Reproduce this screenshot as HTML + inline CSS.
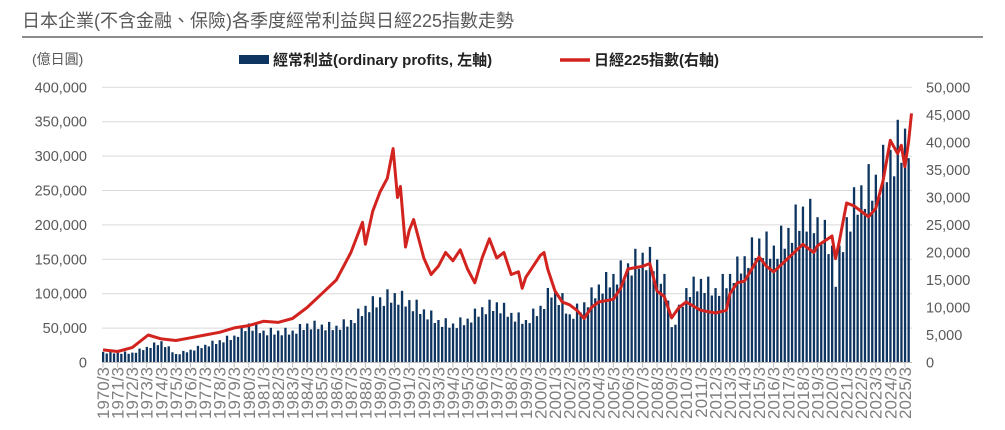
<!DOCTYPE html>
<html><head><meta charset="utf-8"><style>
body{margin:0;background:#fff;width:1005px;height:425px;overflow:hidden}
svg text{font-family:"Liberation Sans","Noto Sans CJK TC",sans-serif}
</style></head><body>
<svg id="c" width="1005" height="425" xmlns="http://www.w3.org/2000/svg">
<text x="22" y="27" font-size="18" fill="#595959">日本企業(不含金融、保險)各季度經常利益與日經225指數走勢</text>
<line x1="22" y1="37" x2="983" y2="37" stroke="#8c8c8c" stroke-width="2"/>
<text x="32" y="64" font-size="14" fill="#595959">(億日圓)</text>
<rect x="239" y="55" width="30" height="9" fill="#0e3460"/>
<text x="273" y="65" font-size="15" font-weight="bold" fill="#222">經常利益(ordinary profits, 左軸)</text>
<line x1="560" y1="60" x2="590" y2="60" stroke="#d2231f" stroke-width="3.5"/>
<text x="594" y="65" font-size="15" font-weight="bold" fill="#222">日經225指數(右軸)</text>
<g id="g"></g>
</svg>
<script>
var g=document.getElementById('g'),s='';
var y0=362.5,pk=34.4/50000,pn=275/50000;
function X(y){return 103+(y-1970)*14.58}
for(var i=0;i<=8;i++){var y=y0-i*34.4;
s+='<line x1="102" x2="912" y1="'+y+'" y2="'+y+'" stroke="#d9d9d9"/>';
s+='<text x="87" y="'+(y+5)+'" font-size="14.5" fill="#595959" text-anchor="end">'+(i*50000).toLocaleString('en-US')+'</text>';}
for(var i=0;i<=10;i++){var y=y0-i*27.5;
s+='<text x="926" y="'+(y+5)+'" font-size="14.5" fill="#595959">'+(i*5000).toLocaleString('en-US')+'</text>';}
function interp(k,t){for(var j=0;j<k.length-1;j++){if(t<=k[j+1][0]){var a=k[j],b=k[j+1];return a[1]+(b[1]-a[1])*(t-a[0])/(b[0]-a[0]);}}return k[k.length-1][1];}
var P=[[1970,15e3],[1972,14e3],[1973,22e3],[1974,30e3],[1975,12e3],[1976,18e3],[1977,25e3],[1979,38e3],[1980,55e3],[1981,45e3],[1983,45e3],[1984,55e3],[1986,52e3],[1987,60e3],[1988,80e3],[1989,92e3],[1990,98e3],[1991,88e3],[1992,75e3],[1993,60e3],[1994,55e3],[1995,62e3],[1996,78e3],[1997,85e3],[1998,70e3],[1999,60e3],[2000,80e3],[2000.75,105e3],[2001.5,90e3],[2002,68e3],[2003,85e3],[2004,110e3],[2005,125e3],[2006,140e3],[2007,155e3],[2008,145e3],[2008.75,100e3],[2009,50e3],[2009.5,75e3],[2010,105e3],[2011,118e3],[2012,105e3],[2013,125e3],[2014,150e3],[2015,175e3],[2016,165e3],[2017,190e3],[2018,220e3],[2019,205e3],[2020,165e3],[2020.25,125e3],[2021,205e3],[2022,250e3],[2023,265e3],[2024,300e3],[2025,330e3],[2025.5,345e3]];
var sea=[1.03,0.88,1.12,0.9];
for(var q=0;q<222;q++){var t=1970+q/4,v=interp(P,t)*sea[q%4];var h=v*pk,x=X(t)-1;
s+='<rect x="'+x.toFixed(1)+'" y="'+(y0-h).toFixed(1)+'" width="2.3" height="'+h.toFixed(1)+'" fill="#0e3460"/>';}
var N=[[1970,2300],[1971,2000],[1972,2700],[1973.1,5000],[1974,4300],[1975,4000],[1976,4500],[1977,5000],[1978,5500],[1979,6300],[1980,6700],[1981,7500],[1982,7300],[1983,8000],[1984,10000],[1985,12500],[1986,15000],[1987,20000],[1987.8,25500],[1988,21500],[1988.5,27500],[1989,31000],[1989.5,33500],[1989.9,38900],[1990.2,30000],[1990.4,32000],[1990.75,21000],[1991,24000],[1991.3,26000],[1992,19000],[1992.5,16000],[1993,17500],[1993.5,20000],[1994,18500],[1994.5,20500],[1995,17000],[1995.5,14500],[1996,19000],[1996.5,22500],[1997,19000],[1997.5,20000],[1998,16000],[1998.5,16500],[1998.75,13500],[1999,15500],[1999.5,17500],[2000,19500],[2000.25,20000],[2000.5,17000],[2001,13000],[2001.5,11000],[2002,10500],[2002.5,9500],[2003,8000],[2003.5,10000],[2004,11000],[2005,11500],[2005.5,13500],[2006,17000],[2007,17500],[2007.5,18000],[2008,13000],[2008.5,12000],[2009,8100],[2009.5,10000],[2010,11000],[2011,9500],[2012,9000],[2012.75,9500],[2013,12500],[2013.5,14500],[2014,14800],[2015,19200],[2015.5,17500],[2016,16500],[2017,19000],[2018,21500],[2018.75,20000],[2019,21200],[2020,23000],[2020.25,18900],[2020.5,22000],[2021,29000],[2021.5,28500],[2022,27500],[2022.5,26500],[2023,28000],[2023.5,33000],[2024,40400],[2024.5,38000],[2024.75,39500],[2025,35600],[2025.25,40000],[2025.45,45300]];
var pts=N.map(function(p){return X(p[0]).toFixed(1)+','+(y0-p[1]*pn).toFixed(1)}).join(' ');
s+='<polyline points="'+pts+'" fill="none" stroke="#d2231f" stroke-width="3" stroke-linejoin="round"/>';
s+='<line x1="102" x2="912" y1="'+y0+'" y2="'+y0+'" stroke="#bfbfbf"/>';
for(var yr=1970;yr<=2025;yr++){var x=X(yr);
s+='<line x1="'+x+'" x2="'+x+'" y1="'+y0+'" y2="'+(y0+5)+'" stroke="#bfbfbf"/>';
s+='<text transform="translate('+(x+6)+',367) rotate(-90)" font-size="17" fill="#7f7f7f" text-anchor="end">'+yr+'/3</text>';}
g.innerHTML=s;
</script>
</body></html>
